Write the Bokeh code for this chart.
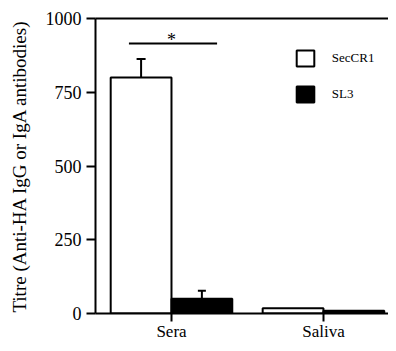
from bokeh.plotting import figure
from bokeh.models import (FixedTicker, Legend, LegendItem, Range1d, LinearAxis,
                          Whisker, ColumnDataSource, TeeHead)
from bokeh.embed import file_html
from bokeh.resources import INLINE
from bokeh.core.properties import value

# ---- data ----
groups = ["Sera", "Saliva"]
group_pos = [1, 2]
seccr1 = [800, 18]
sl3 = [50, 9]
seccr1_err_low = [735, None]
seccr1_err_high = [863, None]
sl3_err_high = [77, None]
sig_level = 915
sig_label = "*"
y_ticks = [0, 250, 500, 750, 1000]
y_max = 1000
y_label = "Titre (Anti-HA IgG or IgA antibodies)"
series_names = ["SecCR1", "SL3"]

# ---- style ----
FONT = "Liberation Serif"
BAR_W = 0.4
OFF = 0.2
LW = 2

p = figure(width=388, height=343,
           x_range=Range1d(0.5, 2.428), y_range=Range1d(0, y_max),
           output_backend="svg", toolbar_location=None,
           min_border_left=95, min_border_right=0, min_border_top=18,
           min_border_bottom=22)
p.outline_line_color = None
p.grid.visible = False
p.background_fill_color = "white"
p.border_fill_color = "white"

# bottom / left axes (configure before adding the top axis)
xax = p.below[0]
yax = p.left[0]

x1 = [g - OFF for g in group_pos]
x2 = [g + OFF for g in group_pos]
r1 = p.vbar(x=x1, top=seccr1, width=BAR_W, fill_color="white",
            line_color="black", line_width=LW)
r2 = p.vbar(x=x2, top=sl3, width=BAR_W, fill_color="black",
            line_color="black", line_width=LW)

# error bars
idx1 = [i for i, v in enumerate(seccr1_err_high) if v is not None]
src1 = ColumnDataSource(dict(x=[x1[i] for i in idx1],
                             lower=[seccr1_err_low[i] for i in idx1],
                             upper=[seccr1_err_high[i] for i in idx1]))
w1 = Whisker(source=src1, base="x", lower="lower", upper="upper",
             dimension="height", line_width=LW, line_color="black",
             upper_head=TeeHead(size=9, line_width=LW, line_color="black"),
             lower_head=TeeHead(size=12, line_width=LW, line_color="black"))
p.add_layout(w1)

idx2 = [i for i, v in enumerate(sl3_err_high) if v is not None]
src2 = ColumnDataSource(dict(x=[x2[i] for i in idx2],
                             lower=[sl3[i] for i in idx2],
                             upper=[sl3_err_high[i] for i in idx2]))
w2 = Whisker(source=src2, base="x", lower="lower", upper="upper",
             dimension="height", line_width=LW, line_color="black",
             upper_head=TeeHead(size=8, line_width=LW, line_color="black"),
             lower_head=None)
p.add_layout(w2)

# significance bar
p.segment(x0=[x1[0] - 0.08], x1=[x2[0] + 0.1], y0=[sig_level], y1=[sig_level],
          line_color="black", line_width=LW)
p.text(x=[group_pos[0]], y=[sig_level], text=[sig_label],
       text_font=value(FONT), text_font_size="18px", text_align="center",
       text_baseline="alphabetic", y_offset=-4, text_color="black")

# axes
yax.ticker = FixedTicker(ticks=y_ticks)
yax.minor_tick_line_color = None
yax.major_tick_in = 0
yax.major_tick_out = 9
yax.axis_line_width = LW
yax.major_tick_line_width = LW
yax.major_label_standoff = 5
yax.major_label_text_font = FONT
yax.major_label_text_font_size = "18px"
yax.major_label_text_color = "black"
yax.axis_label = y_label
yax.axis_label_text_font = FONT
yax.axis_label_text_font_size = "19px"
yax.axis_label_text_font_style = "normal"
yax.axis_label_text_color = "black"
yax.axis_label_standoff = 13

xax.ticker = FixedTicker(ticks=group_pos)
xax.major_label_overrides = {g: lab for g, lab in zip(group_pos, groups)}
xax.minor_tick_line_color = None
xax.major_tick_in = 0
xax.major_tick_out = 8
xax.axis_line_width = LW
xax.major_tick_line_width = LW
xax.major_label_standoff = 0
xax.major_label_text_font = FONT
xax.major_label_text_font_size = "17px"
xax.major_label_text_color = "black"

# top frame line (an unlabeled axis above)
top_axis = LinearAxis(ticker=FixedTicker(ticks=[]), axis_line_width=LW,
                      axis_line_color="black",
                      major_tick_line_color=None, minor_tick_line_color=None,
                      major_tick_out=0, major_tick_in=0,
                      minor_tick_out=0, minor_tick_in=0,
                      major_label_text_color=None,
                      major_label_text_font_size="1px",
                      major_label_standoff=0)
p.add_layout(top_axis, "above")

legend = Legend(items=[LegendItem(label=value(series_names[0]), renderers=[r1]),
                       LegendItem(label=value(series_names[1]), renderers=[r2])],
                location=(198.8, 209), glyph_width=22, glyph_height=20,
                label_standoff=16, spacing=16, padding=0, margin=0,
                border_line_alpha=0, background_fill_alpha=0,
                label_text_font=FONT, label_text_font_size="13px",
                label_text_color="black")
p.add_layout(legend, "center")

open("out.html", "w").write(file_html(p, INLINE))
